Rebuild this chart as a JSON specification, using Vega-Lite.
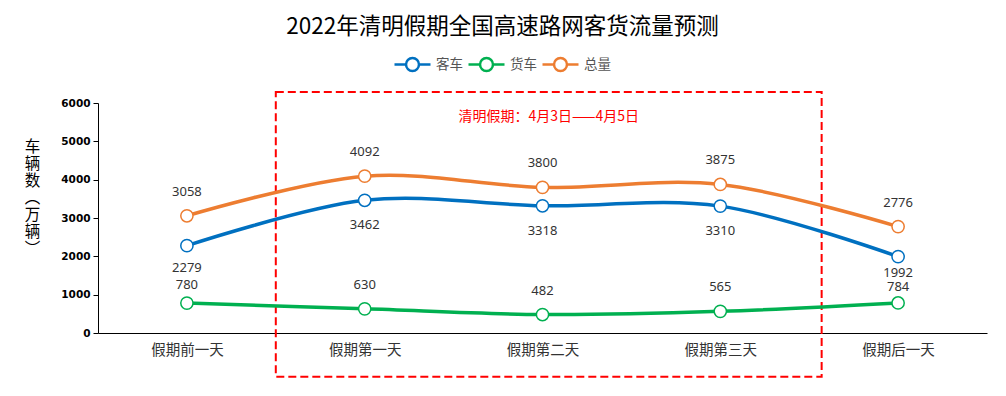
{
  "$schema": "https://vega.github.io/schema/vega-lite/v6.json",
  "width": 889,
  "height": 230,
  "autosize": {"type": "none"},
  "padding": {"left": 98, "top": 103, "right": 19, "bottom": 63},
  "background": "white",
  "title": {
    "text": "2022年清明假期全国高速路网客货流量预测",
    "font": "Noto Sans CJK SC",
    "fontSize": 22.5,
    "fontWeight": "normal",
    "color": "#000000",
    "anchor": "middle",
    "dx": -40,
    "offset": 7
  },
  "config": {
    "view": {"stroke": null},
    "font": "Noto Sans CJK SC"
  },
  "encoding": {
    "x": {
      "field": "x",
      "type": "quantitative",
      "scale": {"domain": [-0.5, 4.5], "nice": false, "zero": false},
      "axis": {
        "values": [0, 1, 2, 3, 4],
        "labelExpr": "['假期前一天','假期第一天','假期第二天','假期第三天','假期后一天'][datum.value]",
        "grid": false,
        "ticks": false,
        "domainColor": "#000000",
        "domainWidth": 1,
        "labelFont": "Noto Sans CJK SC",
        "labelFontSize": 14.5,
        "labelColor": "#333333",
        "labelPadding": 10,
        "title": null
      }
    },
    "y": {
      "field": "y",
      "type": "quantitative",
      "scale": {"domain": [0, 6000], "nice": false},
      "axis": {
        "values": [0, 1000, 2000, 3000, 4000, 5000, 6000],
        "format": "d",
        "grid": false,
        "domainColor": "#000000",
        "tickColor": "#000000",
        "tickSize": 5,
        "labelFont": "DejaVu Sans",
        "labelFontSize": 10.5,
        "labelFontWeight": "bold",
        "labelColor": "#000000",
        "labelPadding": 3,
        "title": ["车", "辆", "数", "︵", "万", "辆", "︶"],
        "titleAngle": 0,
        "titleFont": "Noto Sans CJK SC",
        "titleFontSize": 15.5,
        "titleFontWeight": "normal",
        "titleColor": "#000000",
        "titleLineHeight": 17,
        "titleAlign": "center",
        "titleBaseline": "top",
        "titleX": -66,
        "titleY": 36
      }
    }
  },
  "layer": [
    {
      "data": {"values": [{"x": 0.5, "x2": 3.57, "y": 6290, "y2": -1140}]},
      "mark": {"type": "rect", "fill": null, "fillOpacity": 0, "stroke": "#ff0000", "strokeWidth": 2, "strokeDash": [8, 4], "clip": false},
      "encoding": {
        "x2": {"field": "x2"},
        "y2": {"field": "y2"}
      }
    },
    {
      "data": {"values": [{"x": 2.035, "y": 5640, "label": "清明假期：4月3日——4月5日"}]},
      "mark": {"type": "text", "color": "#ff0000", "fontSize": 14, "font": "Noto Sans CJK SC", "align": "center", "baseline": "middle"},
      "encoding": {"text": {"field": "label"}}
    },
    {
      "data": {"name": "main"},
      "mark": {"type": "line", "interpolate": "cardinal", "strokeWidth": 3.5},
      "encoding": {
        "color": {
          "field": "series",
          "type": "nominal",
          "scale": {"domain": ["客车", "货车", "总量"], "range": ["#0070c0", "#00b050", "#ed7d31"]},
          "legend": {
            "title": null,
            "orient": "none",
            "direction": "horizontal",
            "legendX": 295,
            "legendY": -58,
            "padding": 0,
            "symbolType": "M-1,0L-0.36,0M1,0L0.36,0M0.36,0A0.36,0.36 0 1,1 -0.36,0A0.36,0.36 0 1,1 0.36,0Z",
            "symbolSize": 1296,
            "symbolStrokeWidth": 2.5,
            "labelFont": "Noto Sans CJK SC",
            "labelFontSize": 13.5,
            "labelColor": "#555555",
            "labelOffset": 4,
            "columnPadding": 0,
            "encode": {"symbols": {"update": {"fill": {"value": "white"}, "fillOpacity": {"value": 1}}}}
          }
        }
      }
    },
    {
      "data": {"name": "main"},
      "mark": {"type": "point", "shape": "circle", "filled": false, "fill": "white", "fillOpacity": 1, "size": 150, "strokeWidth": 1.5, "opacity": 1},
      "encoding": {
        "stroke": {
          "field": "series",
          "type": "nominal",
          "scale": {"domain": ["客车", "货车", "总量"], "range": ["#0070c0", "#00b050", "#ed7d31"]},
          "legend": null
        }
      }
    },
    {
      "data": {"name": "main"},
      "transform": [{"filter": "datum.series === '总量'"}],
      "mark": {"type": "text", "dy": -24, "fontSize": 13, "font": "Noto Sans", "color": "#333333"},
      "encoding": {"text": {"field": "y"}}
    },
    {
      "data": {"name": "main"},
      "transform": [{"filter": "datum.series === '客车' && datum.x >= 1 && datum.x <= 3"}],
      "mark": {"type": "text", "dy": 25, "fontSize": 13, "font": "Noto Sans", "color": "#333333"},
      "encoding": {"text": {"field": "y"}}
    },
    {
      "data": {"name": "main"},
      "transform": [{"filter": "datum.series === '客车' && datum.x == 0"}],
      "mark": {"type": "text", "dy": 22, "fontSize": 13, "font": "Noto Sans", "color": "#333333"},
      "encoding": {"text": {"field": "y"}}
    },
    {
      "data": {"name": "main"},
      "transform": [{"filter": "datum.series === '客车' && datum.x == 4"}],
      "mark": {"type": "text", "dy": 16.5, "fontSize": 13, "font": "Noto Sans", "color": "#333333"},
      "encoding": {"text": {"field": "y"}}
    },
    {
      "data": {"name": "main"},
      "transform": [{"filter": "datum.series === '货车' && datum.x >= 1 && datum.x <= 3"}],
      "mark": {"type": "text", "dy": -24, "fontSize": 13, "font": "Noto Sans", "color": "#333333"},
      "encoding": {"text": {"field": "y"}}
    },
    {
      "data": {"name": "main"},
      "transform": [{"filter": "datum.series === '货车' && datum.x == 0"}],
      "mark": {"type": "text", "dy": -18, "fontSize": 13, "font": "Noto Sans", "color": "#333333"},
      "encoding": {"text": {"field": "y"}}
    },
    {
      "data": {"name": "main"},
      "transform": [{"filter": "datum.series === '货车' && datum.x == 4"}],
      "mark": {"type": "text", "dy": -16, "fontSize": 13, "font": "Noto Sans", "color": "#333333"},
      "encoding": {"text": {"field": "y"}}
    }
  ],
  "datasets": {
    "main": [
      {"x": 0, "day": "假期前一天", "series": "客车", "y": 2279},
      {"x": 1, "day": "假期第一天", "series": "客车", "y": 3462},
      {"x": 2, "day": "假期第二天", "series": "客车", "y": 3318},
      {"x": 3, "day": "假期第三天", "series": "客车", "y": 3310},
      {"x": 4, "day": "假期后一天", "series": "客车", "y": 1992},
      {"x": 0, "day": "假期前一天", "series": "货车", "y": 780},
      {"x": 1, "day": "假期第一天", "series": "货车", "y": 630},
      {"x": 2, "day": "假期第二天", "series": "货车", "y": 482},
      {"x": 3, "day": "假期第三天", "series": "货车", "y": 565},
      {"x": 4, "day": "假期后一天", "series": "货车", "y": 784},
      {"x": 0, "day": "假期前一天", "series": "总量", "y": 3058},
      {"x": 1, "day": "假期第一天", "series": "总量", "y": 4092},
      {"x": 2, "day": "假期第二天", "series": "总量", "y": 3800},
      {"x": 3, "day": "假期第三天", "series": "总量", "y": 3875},
      {"x": 4, "day": "假期后一天", "series": "总量", "y": 2776}
    ]
  }
}
